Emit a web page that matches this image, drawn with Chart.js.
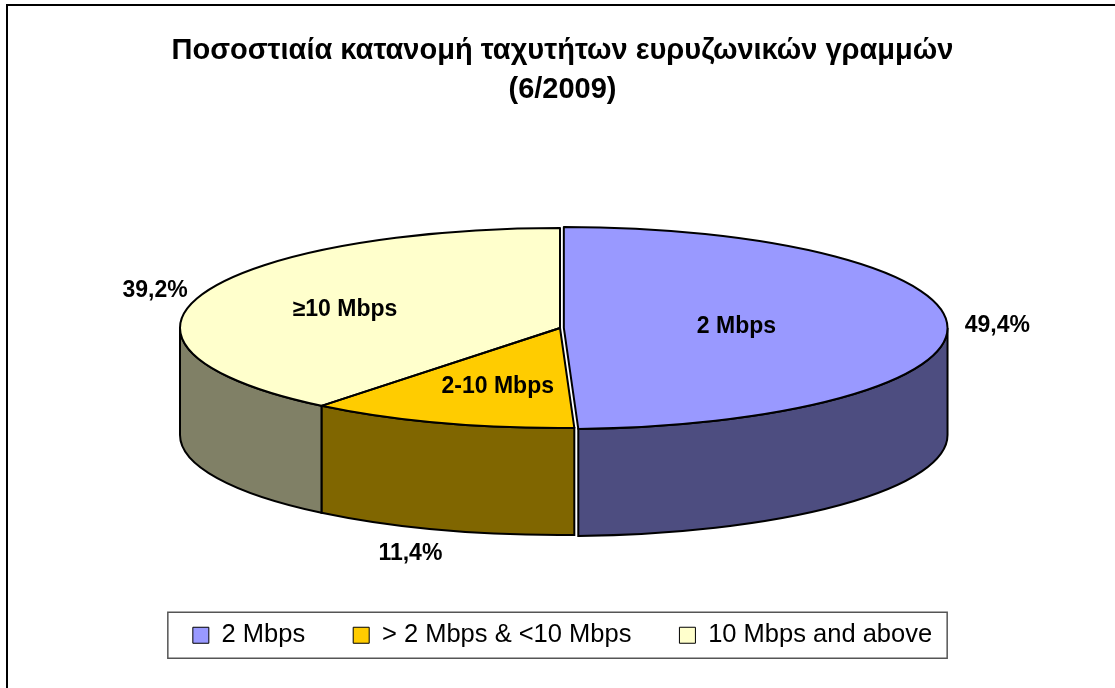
<!DOCTYPE html>
<html>
<head>
<meta charset="utf-8">
<script src="https://cdn.jsdelivr.net/npm/chart.js@4.4.0/dist/chart.umd.min.js"></script>
<style>
  body { margin: 0; background: #fff; }
  #wrap { position: relative; width: 1115px; height: 688px; }
</style>
</head>
<body>
<div id="wrap"><canvas id="pieChart"></canvas></div>
<script>
// legend names
const categories = ['2 Mbps', '> 2 Mbps & <10 Mbps', '10 Mbps and above'];
// short names written on the slices
const sliceNames = ['2 Mbps', '2-10 Mbps', '\u226510 Mbps'];
// share of broadband lines in % (6/2009)
const shares = [49.4, 11.4, 39.2];
const titleLines = ['Ποσοστιαία κατανομή ταχυτήτων ευρυζωνικών γραμμών', '(6/2009)'];

const topColors = ['#9999FF', '#FFCC00', '#FFFFCC'];
const sideColors = ['#4D4D80', '#806600', '#808066'];
const FONT = "'Liberation Sans', Arial, sans-serif";

// where the top face of the pie sits on the page
const CX = 560, CY = 328, RX = 380, RY = 100, DEPTH = 107;

// screen ellipse of one slice (follows the offset logic of ArcElement.draw)
function geom(arc) {
    const kx = RX / arc.outerRadius, ky = RY / arc.outerRadius;
    const off = (arc.options.offset || 0) / 4;
    const mid = (arc.startAngle + arc.endAngle) / 2;
    const circ = arc.endAngle - arc.startAngle;
    const fix = 1 - Math.sin(Math.min(Math.PI, circ));
    const r = arc.outerRadius + off * fix;
    return {
        cx: CX + Math.cos(mid) * off * kx,
        cy: CY + Math.sin(mid) * off * ky,
        rx: r * kx,
        ry: r * ky,
        mid: mid
    };
}

const pie3d = {
    id: 'pie3d',
    beforeDraw(chart) {
        const ctx = chart.ctx;
        ctx.save();
        ctx.fillStyle = '#fff';
        ctx.fillRect(0, 0, chart.width, chart.height);
        // outer frame (left and top only are visible)
        ctx.strokeStyle = '#000';
        ctx.lineWidth = 2;
        ctx.beginPath();
        ctx.moveTo(7, chart.height);
        ctx.lineTo(7, 5);
        ctx.lineTo(chart.width, 5);
        ctx.stroke();
        // legend frame
        const hb = chart.legend.legendHitBoxes;
        if (hb && hb.length) {
            const first = hb[0], last = hb[hb.length - 1];
            const midY = first.top + first.height / 2;
            const x0 = first.left - 25, x1 = last.left + last.width + 15;
            ctx.strokeStyle = '#555';
            ctx.lineWidth = 1.5;
            ctx.strokeRect(x0, midY - 23, x1 - x0, 46);
        }
        ctx.restore();
    },
    beforeDatasetsDraw(chart) {
        const ctx = chart.ctx;
        const arcs = chart.getDatasetMeta(0).data;
        // side walls, only the front half is visible
        ctx.save();
        arcs.forEach(function (arc, i) {
            const g = geom(arc);
            const s = Math.max(arc.startAngle, 0);
            const e = Math.min(arc.endAngle, Math.PI);
            if (s >= e) return;
            ctx.beginPath();
            ctx.ellipse(g.cx, g.cy, g.rx, g.ry, 0, s, e);
            ctx.lineTo(g.cx + g.rx * Math.cos(e), g.cy + g.ry * Math.sin(e) + DEPTH);
            ctx.ellipse(g.cx, g.cy + DEPTH, g.rx, g.ry, 0, e, s, true);
            ctx.closePath();
            ctx.fillStyle = sideColors[i];
            ctx.fill();
            ctx.lineWidth = 2;
            ctx.strokeStyle = '#000';
            ctx.stroke();
        });
        ctx.restore();
        // squash the round pie of the library onto the ellipse
        const a = arcs[0];
        ctx.save();
        ctx.translate(CX, CY);
        ctx.scale(RX / a.outerRadius, RY / a.outerRadius);
        ctx.translate(-a.x, -a.y);
    },
    afterDatasetsDraw(chart) {
        const ctx = chart.ctx;
        ctx.restore();
        const arcs = chart.getDatasetMeta(0).data;
        ctx.save();
        ctx.strokeStyle = '#000';
        ctx.lineWidth = 2;
        ctx.lineJoin = 'round';
        arcs.forEach(function (arc) {
            const g = geom(arc);
            ctx.beginPath();
            ctx.moveTo(g.cx, g.cy);
            ctx.ellipse(g.cx, g.cy, g.rx, g.ry, 0, arc.startAngle, arc.endAngle);
            ctx.closePath();
            ctx.stroke();
        });

        // labels
        const innerX = [0.45, 0.52, 0.6];
        const innerY = [0.45, 0.62, 0.55];
        ctx.fillStyle = '#000';
        ctx.font = 'bold 23px ' + FONT;
        ctx.textAlign = 'center';
        ctx.textBaseline = 'middle';
        arcs.forEach(function (arc, i) {
            const g = geom(arc);
            const c = Math.cos(g.mid), s = Math.sin(g.mid);
            ctx.fillText(sliceNames[i], g.cx + g.rx * innerX[i] * c, g.cy + g.ry * innerY[i] * s);
            const txt = shares[i].toFixed(1).replace('.', ',') + '%';
            const front = s > 0.3;
            const f = front ? 1.25 : 1.13;
            ctx.fillText(txt, g.cx + g.rx * f * c, g.cy + g.ry * f * s + (front ? DEPTH : 0));
        });
        ctx.restore();
    }
};

const ctx = document.getElementById('pieChart').getContext('2d');
const chart = new Chart(ctx, {
    type: 'pie',
    data: {
        labels: categories,
        datasets: [{
            data: shares,
            backgroundColor: topColors,
            borderWidth: 0,
            offset: [9, 0, 0]
        }]
    },
    options: {
        responsive: true,
        maintainAspectRatio: false,
        animation: false,
        layout: { padding: { left: 10, bottom: 30 } },
        plugins: {
            title: {
                display: true,
                text: titleLines,
                color: '#000',
                font: { family: FONT, size: 29, weight: 'bold', lineHeight: 1.345 },
                padding: { top: 31.5, bottom: 10 }
            },
            legend: {
                position: 'bottom',
                labels: {
                    boxWidth: 16,
                    boxHeight: 16,
                    padding: 48,
                    color: '#000',
                    font: { family: FONT, size: 25.5 },
                    generateLabels: function () {
                        return categories.map(function (name, i) {
                            return { text: name, fillStyle: topColors[i], strokeStyle: '#000', lineWidth: 1, hidden: false, index: i };
                        });
                    }
                }
            },
            tooltip: { enabled: false }
        }
    },
    plugins: [pie3d]
});
</script>
</body>
</html>
